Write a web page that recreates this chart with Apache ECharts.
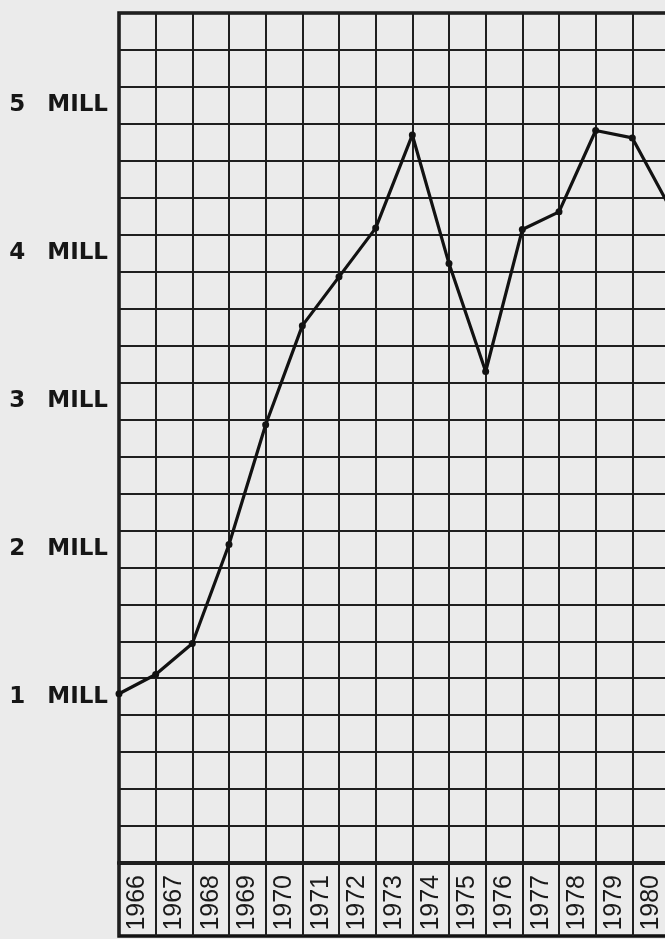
<!DOCTYPE html>
<html>
<head>
<meta charset="utf-8">
<script src="https://cdn.jsdelivr.net/npm/echarts@6/dist/echarts.min.js"></script>
<style>
html,body{margin:0;padding:0;background:#ebebeb;}
#c{width:665px;height:939px;}
</style>
</head>
<body>
<div id="c"></div>
<script>
// Point positions (start of each year) and their values, in millions
const pointYears = ['1966','1967','1968','1969','1970','1971','1972','1973','1974','1975','1976','1977','1978','1979','1980','1981'];
const values = [1.02, 1.15, 1.36, 2.03, 2.84, 3.51, 3.84, 4.17, 4.80, 3.93, 3.20, 4.16, 4.28, 4.83, 4.78, 4.32];
// Year labels in the bottom band
const labelYears = ['1966','1967','1968','1969','1970','1971','1972','1973','1974','1975','1976','1977','1978','1979','1980'];
// Y tick labels (millions)
const millTicks = [1, 2, 3, 4, 5];
const millSuffix = 'MILL';

const ink = '#121212';
const gridInk = '#1f1f1f';
const chart = echarts.init(document.getElementById('c'), null, {renderer: 'canvas'});
chart.setOption({
  backgroundColor: '#ebebeb',
  animation: false,
  grid: [
    {left: 119, right: -4, top: 13, height: 850, show: true, borderColor: ink, borderWidth: 3.5, containLabel: false, outerBoundsMode: 'none'},
    {left: 119, right: -4, top: 863, height: 73, show: true, borderColor: ink, borderWidth: 3.5, containLabel: false, outerBoundsMode: 'none'}
  ],
  xAxis: [
    {
      gridIndex: 0, type: 'category', data: pointYears, boundaryGap: false,
      axisLine: {show: false}, axisTick: {show: false}, axisLabel: {show: false},
      splitLine: {show: true, interval: 0, lineStyle: {color: gridInk, width: 2}}
    },
    {
      gridIndex: 1, type: 'category', data: labelYears, boundaryGap: true, position: 'top',
      axisLine: {show: false}, axisTick: {show: false},
      axisLabel: {inside: true, rotate: 90, margin: 12, interval: 0, color: '#1a1a1a',
        fontFamily: 'Liberation Sans', fontSize: 25},
      splitLine: {show: true, interval: 0, lineStyle: {color: gridInk, width: 2}}
    }
  ],
  yAxis: [
    {
      gridIndex: 0, type: 'value', min: -0.125, max: 5.625, interval: 0.125,
      axisLine: {show: false}, axisTick: {show: false}, splitLine: {show: false},
      axisLabel: {
        margin: 11,
        formatter: function (v) {
          const r = Math.round(v * 1000) / 1000;
          return millTicks.indexOf(r) >= 0 ? '{n|' + r + '}{m|' + millSuffix + '}' : '';
        },
        rich: {
          n: {width: 38, align: 'left', fontFamily: 'DejaVu Sans', fontWeight: 'bold', fontSize: 23, color: '#161616'},
          m: {fontFamily: 'DejaVu Sans', fontWeight: 'bold', fontSize: 23, color: '#161616'}
        }
      }
    },
    {
      gridIndex: 0, type: 'value', min: 0, max: 23, interval: 1, position: 'left',
      axisLine: {show: false}, axisTick: {show: false}, axisLabel: {show: false},
      splitLine: {show: true, lineStyle: {color: gridInk, width: 2}}
    },
    {
      gridIndex: 1, type: 'value', min: 0, max: 1,
      axisLine: {show: false}, axisTick: {show: false}, axisLabel: {show: false}, splitLine: {show: false}
    }
  ],
  series: [{
    type: 'line', xAxisIndex: 0, yAxisIndex: 0, data: values,
    symbol: 'circle', symbolSize: 7, showSymbol: true,
    lineStyle: {color: ink, width: 3.2},
    itemStyle: {color: ink},
    clip: false
  }]
});
</script>
</body>
</html>
